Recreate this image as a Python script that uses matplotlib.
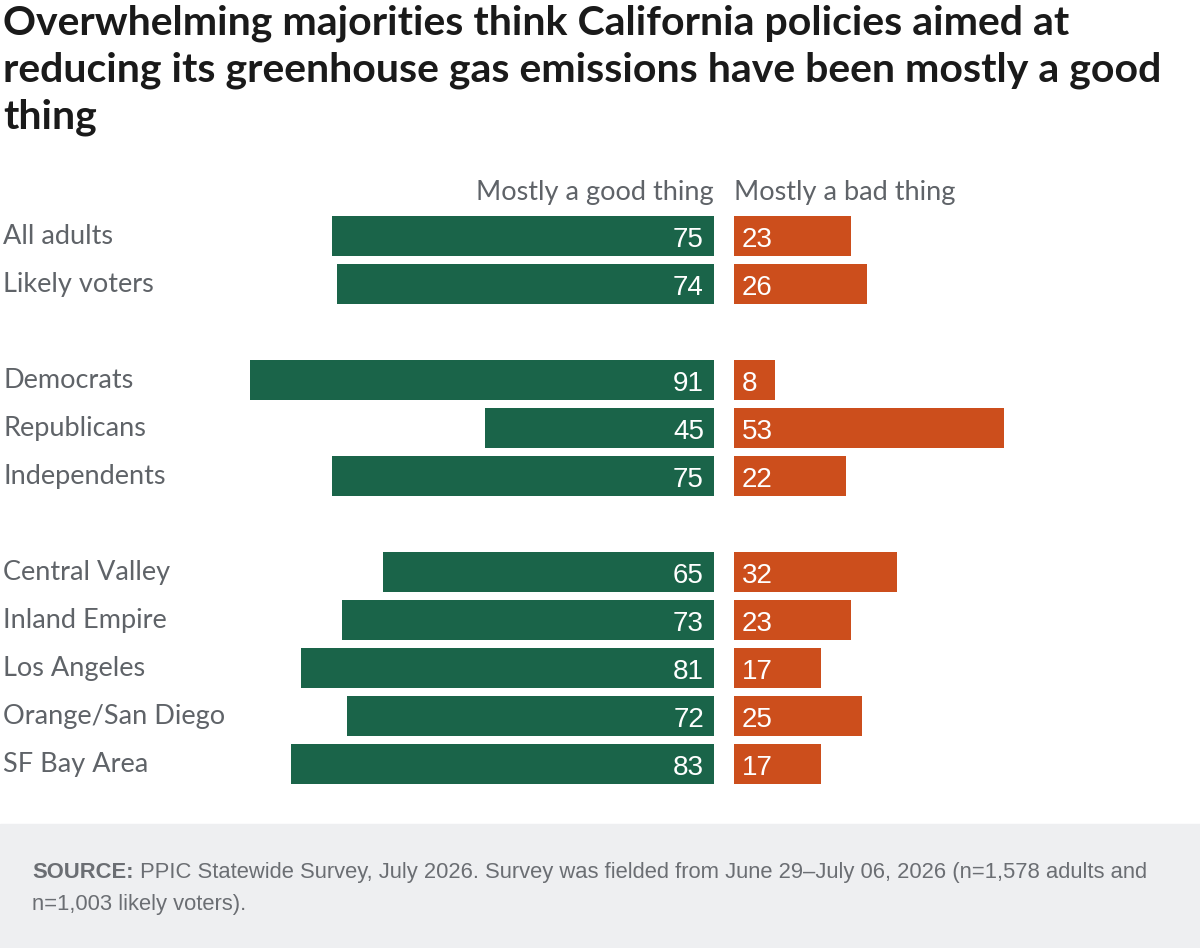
import matplotlib.pyplot as plt
from matplotlib.patches import Rectangle

# data
groups = ["All adults", "Likely voters", None,
          "Democrats", "Republicans", "Independents", None,
          "Central Valley", "Inland Empire", "Los Angeles", "Orange/San Diego", "SF Bay Area"]
good = [75, 74, None, 91, 45, 75, None, 65, 73, 81, 72, 83]
bad = [23, 26, None, 8, 53, 22, None, 32, 23, 17, 25, 17]

title = ("Overwhelming majorities think California policies aimed at\n"
         "reducing its greenhouse gas emissions have been mostly a good\n"
         "thing")
source_bold = "SOURCE:"
source_line1 = " PPIC Statewide Survey, July 2026. Survey was fielded from June 29\u2013July 06, 2026 (n=1,578 adults and"
source_line2 = "n=1,003 likely voters)."

GREEN = "#1a6449"
ORANGE = "#cc4e1c"
GRAY = "#5f6368"
FOOT = "#6b6e73"

W, H = 1200, 948
fig = plt.figure(figsize=(W / 100, H / 100), dpi=100)
ax = fig.add_axes([0, 0, 1, 1])

# scale: ~5.1 px per percentage point, zero line at x=714 px, row pitch 48 px
ppu = 5.1
x0 = 714
gap = 20 / ppu
ax.set_xlim(-x0 / ppu, (W - x0) / ppu)
ax.set_ylim((H - 236) / 48, -236 / 48)
ax.axis("off")

font = "Lato"
for i, (g, gv, bv) in enumerate(zip(groups, good, bad)):
    if g is None:
        continue
    ax.barh(i, -gv, height=40 / 48, left=0, color=GREEN)
    ax.barh(i, bv, height=40 / 48, left=gap, color=ORANGE)
    ax.text(-10 / ppu, i + 0.02, str(gv), ha="right", va="center_baseline", color="white",
            fontsize=20, family="Liberation Sans")
    ax.text(gap + 8 / ppu, i + 0.02, str(bv), ha="left", va="center_baseline", color="white",
            fontsize=20, family="Liberation Sans")
    ax.text(3 / ppu - x0 / ppu, i + 0.02, g, ha="left", va="center", color=GRAY,
            fontsize=19.5, family=font)

ax.text(0, -0.9, "Mostly a good thing", ha="right", va="center", color=GRAY,
        fontsize=19.5, family=font)
ax.text(gap, -0.9, "Mostly a bad thing", ha="left", va="center", color=GRAY,
        fontsize=19.5, family=font)

# footer band
fig.patches.append(Rectangle((0, 0), 1, (H - 824) / H, transform=fig.transFigure,
                             color="#eeeff1", zorder=0))
renderer = fig.canvas.get_renderer()
b = fig.text(32 / W, 1 - 870 / H, source_bold, ha="left", va="center_baseline", color=FOOT,
             fontsize=15.8, family="Liberation Sans", weight="bold")
bx1 = b.get_window_extent(renderer).x1
fig.text(bx1 / W, 1 - 870 / H, source_line1, ha="left", va="center_baseline", color=FOOT,
         fontsize=15.8, family="Liberation Sans")
fig.text(32 / W, 1 - 902 / H, source_line2, ha="left", va="center_baseline", color=FOOT,
         fontsize=15.8, family="Liberation Sans")

fig.text(3 / W, 1 - 5 / H, title, ha="left", va="top", color="#1a1a1a",
         fontsize=29.5, family=font, weight="bold", linespacing=1.3)

fig.savefig("out.png", dpi=100)
